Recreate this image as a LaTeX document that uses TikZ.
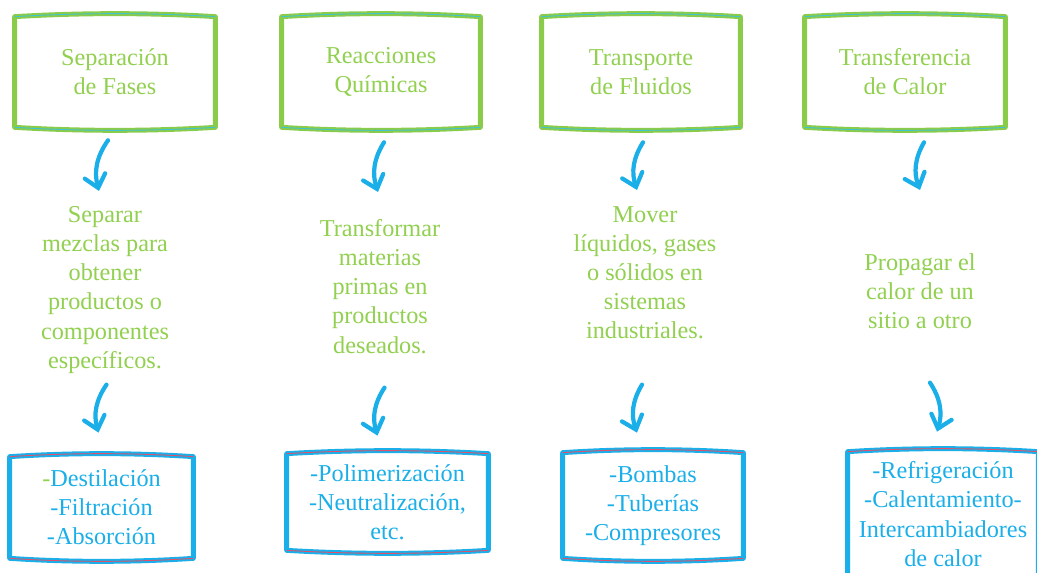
\documentclass[tikz,border=0pt]{standalone}
\usepackage{fontspec}
\setmainfont{Liberation Serif}
\usepackage{tikz}
\usetikzlibrary{calc}
\usetikzlibrary{arrows.meta}
\definecolor{verdecaja}{HTML}{8ACB4A}
\definecolor{verdetexto}{HTML}{92D050}
\definecolor{azul}{HTML}{1AAFE8}
\definecolor{cian}{HTML}{3EC3D3}
\definecolor{rojo}{HTML}{E0506A}
\newcommand{\marcomano}[3]{%
	\draw[#2, line width=2.8pt, line cap=round, line join=round]
		(#1.north west) .. controls ($(#1.north west)!.33!(#1.north east)+(0,-4)$) and ($(#1.north west)!.67!(#1.north east)+(0,-4)$) .. (#1.north east)
		-- (#1.south east)
		.. controls ($(#1.south east)!.33!(#1.south west)+(0,4)$) and ($(#1.south east)!.67!(#1.south west)+(0,4)$) .. (#1.south west)
		-- cycle;
	\draw[#3, line width=0.5pt]
		(#1.north west) .. controls ($(#1.north west)!.33!(#1.north east)+(0,-4)$) and ($(#1.north west)!.67!(#1.north east)+(0,-4)$) .. (#1.north east);
	\draw[#3, line width=0.5pt]
		(#1.south east) .. controls ($(#1.south east)!.33!(#1.south west)+(0,4)$) and ($(#1.south east)!.67!(#1.south west)+(0,4)$) .. (#1.south west);}

\begin{document}
\begin{tikzpicture}[x=0.02cm, y=-0.02cm,
		letra/.style={font=\fontsize{13.8}{16.6}\selectfont, align=center, inner sep=0pt},
		titulo/.style={letra, text=verdetexto},
		lista/.style={letra, text=azul},
		medio/.style={letra, text=verdetexto, anchor=north},
		flecha/.style={azul, line width=2.4pt, line cap=round, -{Straight Barb[length=7pt,width=12pt,line cap=round]}}]
	\useasboundingbox (0,0) rectangle (1037,573);
	\fill[white] (0,0) rectangle (1037,573);

	\node[titulo, minimum width=4cm, minimum height=2.2cm] (sep) at (115,72) {Separación\\de Fases};
	\node[titulo, minimum width=3.96cm, minimum height=2.2cm] (rea) at (381,72) {Reacciones\\Químicas};
	\node[titulo, minimum width=3.96cm, minimum height=2.2cm] (tra) at (641,72) {Transporte\\de Fluidos};
	\node[titulo, minimum width=4cm, minimum height=2.2cm] (tdc) at (905,72) {Transferencia\\de Calor};

	\node[medio] (m1) at (105,206) {Separar\\mezclas para\\obtener\\productos o\\componentes\\específicos.};
	\node[medio] (m2) at (380,219) {Transformar\\materias\\primas en\\productos\\deseados.};
	\node[medio] (m3) at (645,206) {Mover\\líquidos, gases\\o sólidos en\\sistemas\\industriales.};
	\node[medio] (m4) at (920,253) {Propagar el\\calor de un\\sitio a otro};

	\node[lista, minimum width=3.66cm, minimum height=2.02cm] (b1) at (101.5,507.5) {{\color{verdetexto}-}Destilación\\-Filtración\\-Absorción};
	\node[lista, minimum width=4.02cm, minimum height=1.92cm] (b2) at (387.5,502) {-Polimerización\\-Neutralización,\\etc.};
	\node[lista, minimum width=3.6cm, minimum height=2.1cm] (b3) at (653,505.5) {-Bombas\\-Tuberías\\-Compresores};
	\node[lista, minimum width=3.8cm, minimum height=2.48cm] (b4) at (943,514) {-Refrigeración\\-Calentamiento-\\Intercambiadores\\de calor};

	\marcomano{sep}{verdecaja}{cian}
	\marcomano{rea}{verdecaja}{cian}
	\marcomano{tra}{verdecaja}{cian}
	\marcomano{tdc}{verdecaja}{cian}
	\marcomano{b1}{azul}{rojo}
	\marcomano{b2}{azul}{rojo}
	\marcomano{b3}{azul}{rojo}
	\marcomano{b4}{azul}{rojo}

	\draw[flecha] ([shift={(-7,13)}]sep.south) to[bend right=25] ([shift={(-6,-15)}]m1.north);
	\draw[flecha] ([shift={(3,15)}]rea.south) to[bend right=25] ([shift={(-2,-27)}]m2.north);
	\draw[flecha] ([shift={(2,15)}]tra.south) to[bend right=25] ([shift={(-8,-16)}]m3.north);
	\draw[flecha] ([shift={(19,15)}]tdc.south) to[bend right=25] ([shift={(0,-63)}]m4.north);

	\draw[flecha] ([shift={(5,-72)}]b1.north) to[bend right=25] ([shift={(-3,-24)}]b1.north);
	\draw[flecha] ([shift={(-3,-66)}]b2.north) to[bend right=25] ([shift={(-10,-18)}]b2.north);
	\draw[flecha] ([shift={(-11,-68)}]b3.north) to[bend right=25] ([shift={(-16,-20)}]b3.north);
	\draw[flecha] ([shift={(-13,-69)}]b4.north) to[bend left=25] ([shift={(-6,-20)}]b4.north);
\end{tikzpicture}
\end{document}
